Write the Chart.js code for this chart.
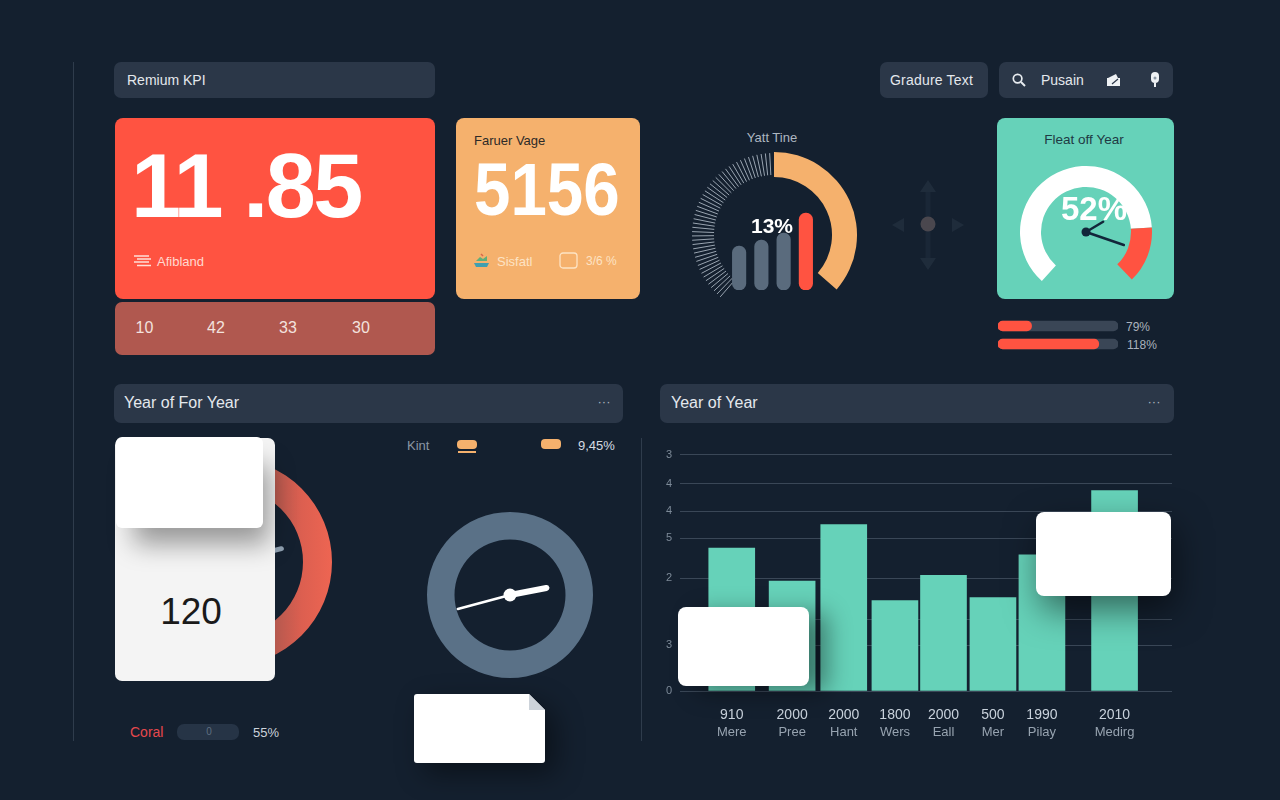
<!DOCTYPE html>
<html>
<head>
<meta charset="utf-8">
<title>Remium KPI</title>
<script src="https://cdn.jsdelivr.net/npm/chart.js@4"></script>
<style>
html, body { margin: 0; padding: 0; width: 1280px; height: 800px; overflow: hidden; background: #14202f; }
body { position: relative; font-family: "Liberation Sans", Arial, sans-serif; color: #e4e8ed; }
canvas { position: absolute; display: block; }
.box { position: absolute; box-sizing: border-box; }
.bar { background: #2b3748; border-radius: 7px; }
.t { position: absolute; white-space: nowrap; transform: translateY(-50%); line-height: 1; }
.c { transform: translate(-50%, -50%); }
.rule { position: absolute; width: 1px; background: #2f3c4c; }
svg { position: absolute; overflow: visible; }
</style>
</head>
<body>

<div class="rule" style="left:73px;top:62px;height:679px"></div>
<div class="rule" style="left:641px;top:438px;height:303px"></div>

<!-- header -->
<div class="box bar" style="left:114px;top:62px;width:321px;height:36px"></div>
<div class="t" style="left:127px;top:80px;font-size:14px">Remium KPI</div>
<div class="box bar" style="left:880px;top:62px;width:108px;height:36px"></div>
<div class="t" style="left:890px;top:80px;font-size:14px;letter-spacing:.2px">Gradure Text</div>
<div class="box bar" style="left:999px;top:62px;width:174px;height:36px"></div>
<svg style="left:1012px;top:73px" width="14" height="14" viewBox="0 0 14 14"><circle cx="5.6" cy="5.6" r="4.3" fill="none" stroke="#e8ecf0" stroke-width="1.7"/><path d="M9 9l4 4" stroke="#e8ecf0" stroke-width="2"/></svg>
<div class="t" style="left:1041px;top:80px;font-size:14px">Pusain</div>
<svg style="left:1107px;top:73px" width="13" height="14" viewBox="0 0 13 14"><path d="M1 5l8-4 2 4h2v8H0V5z" fill="#eef1f4"/><path d="M5 11l6-5" stroke="#2b3748" stroke-width="1.2"/></svg>
<svg style="left:1150px;top:72px" width="10" height="15" viewBox="0 0 10 15"><rect x="1" y="0" width="8" height="11" rx="4" fill="#eef1f4"/><path d="M5 11v4" stroke="#eef1f4" stroke-width="2"/><circle cx="5" cy="6" r="1.5" fill="#8b97a4"/></svg>

<!-- red KPI card -->
<div class="box" style="left:115px;top:118px;width:320px;height:181px;background:#ff5341;border-radius:8px"></div>
<div class="t" style="left:131px;top:186px;font-size:90px;font-weight:bold;color:#fff;letter-spacing:-2.6px">11 .85</div>
<svg style="left:134px;top:255px" width="17" height="12" viewBox="0 0 17 12"><path d="M0 1h15M3 4h14M0 7h15M3 10.500h14" stroke="#ffe0d8" stroke-width="1.3"/></svg>
<div class="t" style="left:157px;top:261px;font-size:13px;color:#ffd9d0">Afibland</div>
<div class="box" style="left:115px;top:302px;width:320px;height:53px;background:#b0584f;border-radius:7px"></div>
<div class="t c" style="left:144.500px;top:328px;font-size:16px;color:#f3e2de">10</div>
<div class="t c" style="left:216px;top:328px;font-size:16px;color:#f3e2de">42</div>
<div class="t c" style="left:288px;top:328px;font-size:16px;color:#f3e2de">33</div>
<div class="t c" style="left:361px;top:328px;font-size:16px;color:#f3e2de">30</div>

<!-- orange KPI card -->
<div class="box" style="left:456px;top:118px;width:184px;height:181px;background:#f5b16d;border-radius:8px"></div>
<div class="t" style="left:474px;top:140px;font-size:13px;color:#2d2a28">Faruer Vage</div>
<div class="t" style="left:474px;top:190px;font-size:74px;font-weight:bold;color:#fff;transform:translateY(-50%) scaleX(.885);transform-origin:left center">5156</div>
<svg style="left:473px;top:253px" width="17" height="15" viewBox="0 0 17 15"><path d="M1 10h15l-2 4H3z" fill="#3f9fb0"/><path d="M3 8l4-4 3 2 4-3v5z" fill="#5fae7a"/><path d="M8 1l2 2" stroke="#d8664c" stroke-width="1.500"/></svg>
<div class="t" style="left:497px;top:261px;font-size:13px;color:#fde3c4">Sisfatl</div>
<svg style="left:559px;top:252px" width="19" height="17" viewBox="0 0 19 17"><rect x="1" y="1" width="17" height="15" rx="3" fill="none" stroke="#fde3c4" stroke-width="1.300"/></svg>
<div class="t" style="left:586px;top:261px;font-size:12px;color:#fde3c4">3/6 %</div>

<!-- Yatt Tine gauge -->
<div class="t c" style="left:772px;top:137px;font-size:13px;color:#aeb7c1">Yatt Tine</div>
<canvas id="timeGauge" width="166" height="166" style="left:691px;top:152px;width:166px;height:166px"></canvas>
<canvas id="miniBars" width="89" height="85" style="left:728px;top:205px;width:89px;height:85px"></canvas>
<div class="t c" style="left:772px;top:225px;font-size:21px;font-weight:bold;color:#fff">13%</div>

<!-- faint compass -->
<svg style="left:885px;top:175px" width="86" height="100" viewBox="0 0 86 100">
  <path d="M43 12v76" stroke="#1a2737" stroke-width="5"/>
  <path d="M43 5l8 12H35zM43 95l8-12H35zM7 50l12-7v14zM79 50l-12-7v14z" fill="#1f2c3b"/>
  <circle cx="43" cy="49" r="7.500" fill="#4a474e"/>
</svg>

<!-- green gauge card -->
<div class="box" style="left:997px;top:118px;width:177px;height:181px;background:#66d2b9;border-radius:8px"></div>
<div class="t c" style="left:1084px;top:140px;font-size:13.500px;color:#1f3a44">Fleat off Year</div>
<canvas id="yearGauge" width="132" height="132" style="left:1020px;top:166px;width:132px;height:132px"></canvas>
<div class="t c" style="left:1094px;top:208px;font-size:33px;font-weight:bold;color:#fff">52%</div>

<!-- progress bars -->
<canvas id="progress" width="120" height="36" style="left:998px;top:317px;width:120px;height:36px"></canvas>
<div class="t" style="left:1126px;top:327px;font-size:12px;color:#aab3bd">79%</div>
<div class="t" style="left:1127px;top:345px;font-size:12px;color:#aab3bd">118%</div>

<!-- section headers -->
<div class="box bar" style="left:114px;top:384px;width:509px;height:39px"></div>
<div class="t" style="left:124px;top:403px;font-size:16px">Year of For Year</div>
<div class="t c" style="left:604px;top:401px;font-size:13px;color:#aab3bd">···</div>
<div class="box bar" style="left:660px;top:384px;width:514px;height:39px"></div>
<div class="t" style="left:671px;top:403px;font-size:16px">Year of Year</div>
<div class="t c" style="left:1154px;top:401px;font-size:13px;color:#aab3bd">···</div>

<!-- left panel -->
<canvas id="coralRing" width="208" height="208" style="left:124px;top:458px;width:208px;height:208px"></canvas>
<div class="box" style="left:115px;top:438px;width:160px;height:243px;background:#f4f4f4;border-radius:7px"></div>
<div class="box" style="left:116px;top:437px;width:147px;height:91px;background:#fff;border-radius:6px;box-shadow:12px 22px 26px -6px rgba(0,0,0,.38)"></div>
<div class="t c" style="left:191px;top:611px;font-size:37px;color:#1a1a1a">120</div>
<div class="t" style="left:130px;top:732px;font-size:14px;color:#e5484d">Coral</div>
<div class="box" style="left:177px;top:724px;width:62px;height:16px;background:#263446;border-radius:7px"></div>
<div class="t c" style="left:209px;top:732px;font-size:10px;color:#5f6f80">0</div>
<div class="t" style="left:253px;top:732px;font-size:13px;color:#ccd3db">55%</div>

<div class="t" style="left:407px;top:445px;font-size:13px;color:#8a97a5">Kint</div>
<div class="box" style="left:457px;top:440px;width:20px;height:9px;background:#f5b16d;border-radius:4px"></div>
<div class="box" style="left:458px;top:451px;width:18px;height:2px;background:#f5b16d"></div>
<div class="box" style="left:541px;top:439px;width:20px;height:10px;background:#f5b16d;border-radius:4px"></div>
<div class="t" style="left:578px;top:445px;font-size:13px;color:#d5dbe2">9,45%</div>

<canvas id="slateRing" width="166" height="166" style="left:427px;top:512px;width:166px;height:166px"></canvas>

<div class="box" style="left:414px;top:694px;width:131px;height:69px;filter:drop-shadow(10px 10px 14px rgba(0,0,0,.45))">
  <div class="box" style="left:0;top:0;width:131px;height:69px;background:#fff;border-radius:3px;clip-path:polygon(0 0,115px 0,131px 16px,131px 69px,0 69px)"></div>
  <div class="box" style="left:115px;top:0;width:16px;height:16px;background:#cdd3da;clip-path:polygon(0 0,100% 100%,0 100%)"></div>
</div>

<!-- year of year bars -->
<canvas id="yearBars" width="525" height="310" style="left:655px;top:440px;width:525px;height:310px"></canvas>
<div class="box" style="left:678px;top:607px;width:131px;height:79px;background:#fff;border-radius:8px;box-shadow:18px 6px 24px rgba(0,0,0,.42)"></div>
<div class="box" style="left:1036px;top:512px;width:135px;height:84px;background:#fff;border-radius:8px;box-shadow:4px 14px 34px rgba(0,0,0,.5)"></div>

<script>
// bar chart values
const barYears = ['910', '2000', '2000', '1800', '2000', '500', '1990', '2010'];
const barNames = ['Mere', 'Pree', 'Hant', 'Wers', 'Eall', 'Mer', 'Pilay', 'Medirg'];
const barValues = [147, 113, 171, 93, 119, 96, 140, 206];
const barSlots = [24, 93, 152, 210.5, 266, 322.5, 378.5, 461.5];
const yTickValues = [0, 47, 74, 116, 157, 185, 213, 243];
const yTickLabels = ['0', '3', '', '2', '5', '4', '4', '3'];

// gauges and small charts
const timeGaugeValues = [139, 131, 90];
const yearGaugeValues = [224, 50, 86];
const miniBarLabels = ['a', 'b', 'c', 'd'];
const miniBarValues = [44, 50, 57, 77];
const progressLabels = ['79%', '118%'];
const progressValues = [28, 84];
const progressTrack = [100, 100];
const coralRingValues = [100];
const slateRingValues = [100];

Chart.defaults.animation = false;
Chart.defaults.responsive = false;
Chart.defaults.devicePixelRatio = 1;
Chart.defaults.font.family = '"Liberation Sans", Arial, sans-serif';
Chart.defaults.plugins.legend.display = false;
Chart.defaults.plugins.tooltip.enabled = false;

const CORAL = '#ff5341';
const TEAL = '#66d2b9';
const SAND = '#f5b16d';
const SLATE = '#5a6b7d';

// needles drawn from the center of a doughnut
const needlePlugin = {
    id: 'needles',
    afterDatasetsDraw(chart, args, opts) {
        if (!opts.list) return;
        const arc = chart.getDatasetMeta(0).data[0];
        const ctx = chart.ctx;
        ctx.save();
        ctx.lineCap = 'round';
        opts.list.forEach(n => {
            const a = n.angle * Math.PI / 180;
            ctx.strokeStyle = opts.color;
            ctx.lineWidth = n.width;
            ctx.beginPath();
            ctx.moveTo(arc.x, arc.y);
            ctx.lineTo(arc.x + Math.cos(a) * n.len, arc.y + Math.sin(a) * n.len);
            ctx.stroke();
        });
        if (opts.hub) {
            ctx.fillStyle = opts.color;
            ctx.beginPath();
            ctx.arc(arc.x, arc.y, opts.hub, 0, Math.PI * 2);
            ctx.fill();
        }
        ctx.restore();
    }
};

// thin radial hatch over the empty part of the first gauge
const hatchPlugin = {
    id: 'hatch',
    afterDatasetsDraw(chart) {
        if (chart.canvas.id !== 'timeGauge') return;
        const arc = chart.getDatasetMeta(0).data[0];
        const ctx = chart.ctx;
        ctx.save();
        ctx.strokeStyle = '#9aa5b1';
        ctx.lineWidth = 1;
        const step = (arc.endAngle - arc.startAngle) / 46;
        for (let a = arc.startAngle; a <= arc.endAngle - step / 2; a += step) {
            ctx.beginPath();
            ctx.moveTo(arc.x + Math.cos(a) * 60, arc.y + Math.sin(a) * 60);
            ctx.lineTo(arc.x + Math.cos(a) * 82, arc.y + Math.sin(a) * 82);
            ctx.stroke();
        }
        ctx.restore();
    }
};

Chart.register(needlePlugin, hatchPlugin);

new Chart(document.getElementById('timeGauge'), {
    type: 'doughnut',
    data: {
        labels: ['Rest', 'Value', 'Gap'],
        datasets: [{ data: timeGaugeValues, backgroundColor: ['transparent', SAND, 'transparent'], borderWidth: 0 }]
    },
    options: { rotation: -139, cutout: 58 }
});

new Chart(document.getElementById('miniBars'), {
    type: 'bar',
    data: {
        labels: miniBarLabels,
        datasets: [{
            data: miniBarValues,
            backgroundColor: [SLATE, SLATE, SLATE, CORAL],
            barThickness: 13.5,
            borderRadius: 7,
            borderSkipped: false
        }]
    },
    options: {
        scales: {
            x: { display: false },
            y: { display: false, min: 0, max: 85 }
        }
    }
});

new Chart(document.getElementById('yearGauge'), {
    type: 'doughnut',
    data: {
        labels: ['Value', 'Rest', 'Gap'],
        datasets: [{ data: yearGaugeValues, backgroundColor: ['#ffffff', CORAL, 'transparent'], borderWidth: 0 }]
    },
    options: {
        rotation: -138,
        cutout: 45,
        plugins: {
            needles: {
                color: '#12263a',
                hub: 4.5,
                list: [{ angle: 19, len: 40, width: 2.5 }, { angle: -31, len: 20, width: 2.5 }]
            }
        }
    }
});

new Chart(document.getElementById('progress'), {
    type: 'bar',
    data: {
        labels: progressLabels,
        datasets: [
            { data: progressValues, backgroundColor: CORAL, barThickness: 10, borderRadius: 5, borderSkipped: false },
            { data: progressTrack, backgroundColor: '#3a4656', barThickness: 10, borderRadius: 5, borderSkipped: false }
        ]
    },
    options: {
        indexAxis: 'y',
        scales: {
            x: { display: false, min: 0, max: 100 },
            y: { display: false, stacked: true }
        }
    }
});

new Chart(document.getElementById('coralRing'), {
    type: 'doughnut',
    data: {
        labels: ['Coral'],
        datasets: [{
            data: coralRingValues,
            borderWidth: 0,
            backgroundColor: ctx => {
                const g = ctx.chart.ctx.createLinearGradient(140, 0, 208, 0);
                g.addColorStop(0, '#a5564e');
                g.addColorStop(0.55, '#dc5f50');
                g.addColorStop(1, '#ee6552');
                return g;
            }
        }]
    },
    options: {
        cutout: 75,
        plugins: { needles: { color: '#8fa0b0', list: [{ angle: -14, len: 55, width: 5 }] } }
    }
});

new Chart(document.getElementById('slateRing'), {
    type: 'doughnut',
    data: {
        labels: ['Slate'],
        datasets: [{ data: slateRingValues, backgroundColor: '#5a7187', borderWidth: 0 }]
    },
    options: {
        cutout: 55.5,
        plugins: {
            needles: {
                color: '#ffffff',
                hub: 6.5,
                list: [{ angle: 165, len: 54, width: 2.5 }, { angle: -11, len: 37, width: 6 }]
            }
        }
    }
});

new Chart(document.getElementById('yearBars'), {
    type: 'bar',
    data: {
        datasets: [{
            data: barSlots.map((slot, i) => ({ x: slot, y: barValues[i] })),
            backgroundColor: TEAL,
            barThickness: 46
        }]
    },
    options: {
        layout: { padding: { top: 8, right: 8, bottom: 0, left: 0 } },
        scales: {
            x: {
                type: 'linear',
                min: 0,
                max: 492,
                grid: { display: false },
                border: { display: false },
                afterBuildTicks: axis => { axis.ticks = barSlots.map(v => ({ value: v })); },
                afterFit: axis => { axis.height = 28; },
                ticks: {
                    autoSkip: false,
                    maxRotation: 0,
                    padding: 8,
                    color: '#c9d2dc',
                    font: { size: 14 },
                    callback: (value, index) => barYears[index]
                }
            },
            x2: {
                type: 'linear',
                position: 'bottom',
                min: 0,
                max: 492,
                grid: { display: false, drawTicks: false },
                border: { display: false },
                afterBuildTicks: axis => { axis.ticks = barSlots.map(v => ({ value: v })); },
                afterFit: axis => { axis.height = 31; },
                ticks: {
                    autoSkip: false,
                    maxRotation: 0,
                    padding: 6,
                    color: '#97a3b0',
                    font: { size: 13 },
                    callback: (value, index) => barNames[index]
                }
            },
            y: {
                min: 0,
                max: 243,
                border: { display: false },
                grid: { color: '#3a4757', lineWidth: 1, drawTicks: false },
                afterBuildTicks: axis => { axis.ticks = yTickValues.map(v => ({ value: v })); },
                afterFit: axis => { axis.width = 25; },
                ticks: {
                    autoSkip: false,
                    padding: 8,
                    color: '#7d8a98',
                    font: { size: 11 },
                    callback: (value, index) => yTickLabels[index]
                }
            }
        }
    }
});
</script>
</body>
</html>
